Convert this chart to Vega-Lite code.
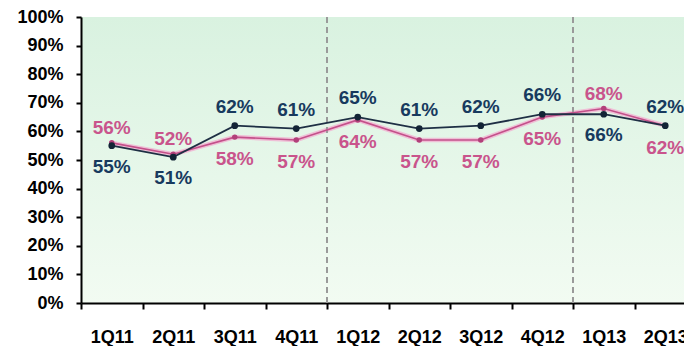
{
  "$schema": "https://vega.github.io/schema/vega-lite/v6.json",
  "width": 603,
  "height": 286,
  "autosize": {"type": "none"},
  "padding": {"left": 81, "top": 17, "right": 0, "bottom": 43},
  "background": "white",
  "config": {
    "font": "Liberation Sans",
    "view": {
      "stroke": null,
      "fill": {"gradient": "linear", "x1": 0, "y1": 0, "x2": 0, "y2": 1,
        "stops": [{"offset": 0, "color": "#d9f2e0"}, {"offset": 1, "color": "#f2fbf2"}]}
    }
  },
  "datasets": {
    "main": [
      {"quarter": "1Q11", "series": "Navy", "value": 0.55},
      {"quarter": "2Q11", "series": "Navy", "value": 0.51},
      {"quarter": "3Q11", "series": "Navy", "value": 0.62},
      {"quarter": "4Q11", "series": "Navy", "value": 0.61},
      {"quarter": "1Q12", "series": "Navy", "value": 0.65},
      {"quarter": "2Q12", "series": "Navy", "value": 0.61},
      {"quarter": "3Q12", "series": "Navy", "value": 0.62},
      {"quarter": "4Q12", "series": "Navy", "value": 0.66},
      {"quarter": "1Q13", "series": "Navy", "value": 0.66},
      {"quarter": "2Q13", "series": "Navy", "value": 0.62},
      {"quarter": "1Q11", "series": "Pink", "value": 0.56},
      {"quarter": "2Q11", "series": "Pink", "value": 0.52},
      {"quarter": "3Q11", "series": "Pink", "value": 0.58},
      {"quarter": "4Q11", "series": "Pink", "value": 0.57},
      {"quarter": "1Q12", "series": "Pink", "value": 0.64},
      {"quarter": "2Q12", "series": "Pink", "value": 0.57},
      {"quarter": "3Q12", "series": "Pink", "value": 0.57},
      {"quarter": "4Q12", "series": "Pink", "value": 0.65},
      {"quarter": "1Q13", "series": "Pink", "value": 0.68},
      {"quarter": "2Q13", "series": "Pink", "value": 0.62}
    ],
    "dividers": [
      {"quarter": "1Q12"},
      {"quarter": "1Q13"}
    ]
  },
  "layer": [
    {
      "data": {"name": "main"},
      "transform": [{"filter": "datum.series === 'Pink'"}],
      "mark": {"type": "line", "color": "#efbfd6", "strokeWidth": 4.5},
      "encoding": {
        "x": {"field": "quarter", "type": "ordinal", "bandPosition": 0.5,
          "scale": {"type": "band", "domain": ["1Q11","2Q11","3Q11","4Q11","1Q12","2Q12","3Q12","4Q12","1Q13","2Q13"], "range": [0, 615], "paddingInner": 0, "paddingOuter": 0},
          "axis": {"title": null, "labelAngle": 0, "labelFontSize": 18, "labelFontWeight": "bold", "labelColor": "black", "labelPadding": 19, "labelOverlap": false, "labelBound": false, "tickSize": 6, "tickWidth": 2, "tickColor": "black", "domainWidth": 2, "domainColor": "black", "tickBand": "extent", "grid": false}},
        "y": {"field": "value", "type": "quantitative",
          "scale": {"domain": [0, 1], "nice": false, "zero": true},
          "axis": {"title": null, "format": ".0%", "values": [0, 0.1, 0.2, 0.3, 0.4, 0.5, 0.6, 0.7, 0.8, 0.9, 1], "labelOverlap": false, "labelBound": false, "labelFlush": false, "labelFontSize": 18, "labelFontWeight": "bold", "labelColor": "black", "labelPadding": 13, "tickSize": 5, "tickWidth": 2, "tickColor": "black", "domainWidth": 2, "domainColor": "black", "grid": false}}
      }
    },
    {
      "data": {"name": "dividers"},
      "mark": {"type": "rule", "color": "#9a9a9a", "strokeWidth": 2, "strokeDash": [6, 4]},
      "encoding": {
        "x": {"field": "quarter", "type": "ordinal", "bandPosition": 0}
      }
    },
    {
      "data": {"name": "main"},
      "transform": [{"filter": "datum.series === 'Pink'"}],
      "mark": {"type": "line", "color": "#c4508a", "strokeWidth": 1.6, "point": {"filled": true, "size": 30, "color": "#b2407a"}},
      "encoding": {
        "x": {"field": "quarter", "type": "ordinal", "bandPosition": 0.5},
        "y": {"field": "value", "type": "quantitative",
          "scale": {"domain": [0, 1], "nice": false, "zero": true},
          "axis": {"title": null, "format": ".0%", "values": [0, 0.1, 0.2, 0.3, 0.4, 0.5, 0.6, 0.7, 0.8, 0.9, 1], "labelOverlap": false, "labelBound": false, "labelFlush": false, "labelFontSize": 18, "labelFontWeight": "bold", "labelColor": "black", "labelPadding": 13, "tickSize": 5, "tickWidth": 2, "tickColor": "black", "domainWidth": 2, "domainColor": "black", "grid": false}}
      }
    },
    {
      "data": {"name": "main"},
      "transform": [{"filter": "datum.series === 'Navy'"}],
      "mark": {"type": "line", "color": "#1e2f44", "strokeWidth": 1.8, "point": {"filled": true, "size": 45, "color": "#132436"}},
      "encoding": {
        "x": {"field": "quarter", "type": "ordinal", "bandPosition": 0.5},
        "y": {"field": "value", "type": "quantitative",
          "scale": {"domain": [0, 1], "nice": false, "zero": true},
          "axis": {"title": null, "format": ".0%", "values": [0, 0.1, 0.2, 0.3, 0.4, 0.5, 0.6, 0.7, 0.8, 0.9, 1], "labelOverlap": false, "labelBound": false, "labelFlush": false, "labelFontSize": 18, "labelFontWeight": "bold", "labelColor": "black", "labelPadding": 13, "tickSize": 5, "tickWidth": 2, "tickColor": "black", "domainWidth": 2, "domainColor": "black", "grid": false}}
      }
    },
    {
      "data": {"name": "main"},
      "transform": [{"filter": "datum.series === 'Navy' && indexof(['1Q11','2Q11','1Q13'], datum.quarter) < 0"}],
      "mark": {"type": "text", "dy": -19, "fontSize": 19, "fontWeight": "bold", "color": "#173a5e", "baseline": "middle"},
      "encoding": {
        "x": {"field": "quarter", "type": "ordinal", "bandPosition": 0.5},
        "y": {"field": "value", "type": "quantitative",
          "scale": {"domain": [0, 1], "nice": false, "zero": true},
          "axis": {"title": null, "format": ".0%", "values": [0, 0.1, 0.2, 0.3, 0.4, 0.5, 0.6, 0.7, 0.8, 0.9, 1], "labelOverlap": false, "labelBound": false, "labelFlush": false, "labelFontSize": 18, "labelFontWeight": "bold", "labelColor": "black", "labelPadding": 13, "tickSize": 5, "tickWidth": 2, "tickColor": "black", "domainWidth": 2, "domainColor": "black", "grid": false}},
        "text": {"field": "value", "type": "quantitative", "format": ".0%"}
      }
    },
    {
      "data": {"name": "main"},
      "transform": [{"filter": "datum.series === 'Navy' && indexof(['1Q11','2Q11','1Q13'], datum.quarter) >= 0"}],
      "mark": {"type": "text", "dy": 21, "fontSize": 19, "fontWeight": "bold", "color": "#173a5e", "baseline": "middle"},
      "encoding": {
        "x": {"field": "quarter", "type": "ordinal", "bandPosition": 0.5},
        "y": {"field": "value", "type": "quantitative",
          "scale": {"domain": [0, 1], "nice": false, "zero": true},
          "axis": {"title": null, "format": ".0%", "values": [0, 0.1, 0.2, 0.3, 0.4, 0.5, 0.6, 0.7, 0.8, 0.9, 1], "labelOverlap": false, "labelBound": false, "labelFlush": false, "labelFontSize": 18, "labelFontWeight": "bold", "labelColor": "black", "labelPadding": 13, "tickSize": 5, "tickWidth": 2, "tickColor": "black", "domainWidth": 2, "domainColor": "black", "grid": false}},
        "text": {"field": "value", "type": "quantitative", "format": ".0%"}
      }
    },
    {
      "data": {"name": "main"},
      "transform": [{"filter": "datum.series === 'Pink' && indexof(['1Q11','2Q11','1Q13'], datum.quarter) >= 0"}],
      "mark": {"type": "text", "dy": -15, "fontSize": 19, "fontWeight": "bold", "color": "#c9548c", "baseline": "middle"},
      "encoding": {
        "x": {"field": "quarter", "type": "ordinal", "bandPosition": 0.5},
        "y": {"field": "value", "type": "quantitative",
          "scale": {"domain": [0, 1], "nice": false, "zero": true},
          "axis": {"title": null, "format": ".0%", "values": [0, 0.1, 0.2, 0.3, 0.4, 0.5, 0.6, 0.7, 0.8, 0.9, 1], "labelOverlap": false, "labelBound": false, "labelFlush": false, "labelFontSize": 18, "labelFontWeight": "bold", "labelColor": "black", "labelPadding": 13, "tickSize": 5, "tickWidth": 2, "tickColor": "black", "domainWidth": 2, "domainColor": "black", "grid": false}},
        "text": {"field": "value", "type": "quantitative", "format": ".0%"}
      }
    },
    {
      "data": {"name": "main"},
      "transform": [{"filter": "datum.series === 'Pink' && indexof(['1Q11','2Q11','1Q13'], datum.quarter) < 0"}],
      "mark": {"type": "text", "dy": 22, "fontSize": 19, "fontWeight": "bold", "color": "#c9548c", "baseline": "middle"},
      "encoding": {
        "x": {"field": "quarter", "type": "ordinal", "bandPosition": 0.5},
        "y": {"field": "value", "type": "quantitative",
          "scale": {"domain": [0, 1], "nice": false, "zero": true},
          "axis": {"title": null, "format": ".0%", "values": [0, 0.1, 0.2, 0.3, 0.4, 0.5, 0.6, 0.7, 0.8, 0.9, 1], "labelOverlap": false, "labelBound": false, "labelFlush": false, "labelFontSize": 18, "labelFontWeight": "bold", "labelColor": "black", "labelPadding": 13, "tickSize": 5, "tickWidth": 2, "tickColor": "black", "domainWidth": 2, "domainColor": "black", "grid": false}},
        "text": {"field": "value", "type": "quantitative", "format": ".0%"}
      }
    }
  ]
}
